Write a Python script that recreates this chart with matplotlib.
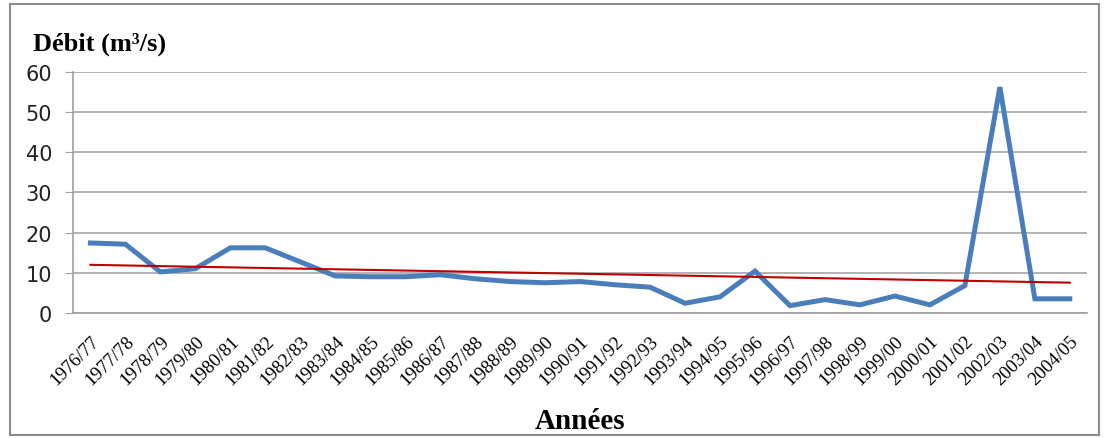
import numpy as np
import matplotlib.pyplot as plt
from matplotlib.patches import Rectangle
from matplotlib.transforms import ScaledTranslation

# hydrological years
annees = ["1976/77", "1977/78", "1978/79", "1979/80", "1980/81", "1981/82",
          "1982/83", "1983/84", "1984/85", "1985/86", "1986/87", "1987/88",
          "1988/89", "1989/90", "1990/91", "1991/92", "1992/93", "1993/94",
          "1994/95", "1995/96", "1996/97", "1997/98", "1998/99", "1999/00",
          "2000/01", "2001/02", "2002/03", "2003/04", "2004/05"]

# mean discharge (m3/s)
debit = [17.4, 17.1, 10.2, 11.0, 16.2, 16.2, 12.7, 9.2, 9.0, 9.0,
         9.5, 8.5, 7.8, 7.5, 7.8, 7.0, 6.4, 2.4, 4.0, 10.4,
         1.8, 3.3, 2.0, 4.2, 2.0, 6.8, 56.2, 3.5, 3.5]

yticks = [0, 10, 20, 30, 40, 50, 60]

x = np.arange(len(annees))

# linear trend (like the excel trendline)
a, b = np.polyfit(x, debit, 1)
trend = a * x + b

fig = plt.figure(figsize=(11.05, 4.39), dpi=100)
ax = fig.add_axes([0.066, 0.285, 0.918, 0.549])

ax.plot(x, debit, color="#4a7ebb", lw=3.6, solid_joinstyle="miter", zorder=3)
ax.plot(x, trend, color="#c00000", lw=1.5, zorder=4)

ax.set_xlim(-0.5, len(annees) - 0.5)
ax.set_ylim(0, 60)
ax.set_yticks(yticks)
ax.set_yticklabels([str(v) for v in yticks], fontsize=15, color="#222222")
ax.set_xticks(x)
ax.set_xticklabels(annees, rotation=45, ha="right", rotation_mode="anchor",
                   family="Liberation Serif", fontsize=13.5)
# shift the rotated labels a little to the right
offset = ScaledTranslation(2 / 100, 0, fig.dpi_scale_trans)
for lab in ax.get_xticklabels():
    lab.set_transform(lab.get_transform() + offset)
ax.tick_params(axis="x", length=0, pad=14)
ax.tick_params(axis="y", length=6, color="#a0a0a0", pad=9)

ax.grid(axis="y", color="#a6a6a6", lw=1.2)
ax.set_axisbelow(True)
for s in ["top", "right"]:
    ax.spines[s].set_visible(False)
for s in ["left", "bottom"]:
    ax.spines[s].set_color("#a0a0a0")
    ax.spines[s].set_linewidth(1.2)

fig.text(0.030, 0.90, "Débit (m³/s)", family="Liberation Serif",
         fontweight="bold", fontsize=19, va="center")
fig.text(0.525, 0.041, "Années", family="Liberation Serif",
         fontweight="bold", fontsize=21, ha="center", va="center")

# outer frame around the chart
fig.patches.append(Rectangle((0.009, 0.006), 0.986, 0.982, transform=fig.transFigure,
                             fill=False, edgecolor="#8c8c8c", lw=1.5))

fig.savefig("out.png", dpi=100)
